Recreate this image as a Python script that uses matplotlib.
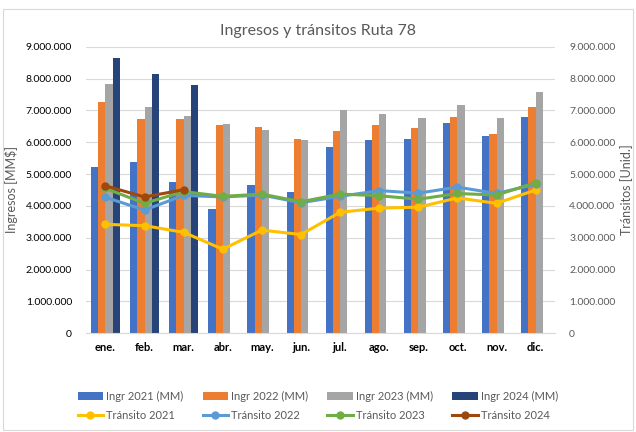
import numpy as np
import matplotlib
matplotlib.use("Agg")
import matplotlib.pyplot as plt
from matplotlib.ticker import FuncFormatter, MultipleLocator
from matplotlib.patches import Rectangle

plt.rcParams['font.family'] = ['Lato', 'DejaVu Sans']

meses = ['ene.', 'feb.', 'mar.', 'abr.', 'may.', 'jun.', 'jul.', 'ago.', 'sep.', 'oct.', 'nov.', 'dic.']

# Ingresos (MM$)
ingr_2021 = [5220000, 5380000, 4740000, 3890000, 4650000, 4430000, 5840000, 6060000, 6090000, 6600000, 6190000, 6800000]
ingr_2022 = [7260000, 6720000, 6720000, 6530000, 6470000, 6100000, 6350000, 6540000, 6450000, 6790000, 6250000, 7100000]
ingr_2023 = [7820000, 7100000, 6830000, 6560000, 6390000, 6070000, 7010000, 6890000, 6760000, 7180000, 6770000, 7570000]
ingr_2024 = [8630000, 8140000, 7810000]

# Tránsitos (Unid.)
tran_2021 = [3420000, 3380000, 3170000, 2640000, 3240000, 3100000, 3800000, 3930000, 3960000, 4250000, 4080000, 4500000]
tran_2022 = [4270000, 3870000, 4330000, 4280000, 4340000, 4100000, 4300000, 4480000, 4400000, 4590000, 4390000, 4680000]
tran_2023 = [4550000, 4080000, 4450000, 4300000, 4370000, 4130000, 4370000, 4320000, 4210000, 4390000, 4340000, 4730000]
tran_2024 = [4630000, 4280000, 4510000]

c_bar = ['#4472C4', '#ED7D31', '#A5A5A5', '#264478']
c_line = ['#FFC000', '#5B9BD5', '#70AD47', '#9E480E']
txt = '#595959'

fig = plt.figure(figsize=(6.36, 4.32), dpi=100)
fig.patches.append(Rectangle((0.005, 0.005), 0.99, 0.975, transform=fig.transFigure,
                             fill=False, edgecolor='#D9D9D9', linewidth=0.8))
ax = fig.add_axes([0.135, 0.2285, 0.738, 0.6635])

x = np.arange(len(meses))
w = 0.185
series = [ingr_2021, ingr_2022, ingr_2023, ingr_2024]
labels_b = ['Ingr 2021 (MM)', 'Ingr 2022 (MM)', 'Ingr 2023 (MM)', 'Ingr 2024 (MM)']
bars = []
for i, s in enumerate(series):
    xs = x[:len(s)] + (i - 1.5) * w
    b = ax.bar(xs, s, width=w, color=c_bar[i], label=labels_b[i], zorder=2)
    bars.append(b)

fmt = FuncFormatter(lambda v, p: f'{int(v):,}'.replace(',', '.'))
ax.set_ylim(0, 9000000)
ax.set_xlim(-0.5, 11.5)
ax.yaxis.set_major_locator(MultipleLocator(1000000))
ax.yaxis.set_major_formatter(fmt)
ax.grid(axis='y', color='#D9D9D9', linewidth=0.8, zorder=0)
ax.set_axisbelow(True)
ax.set_xticks(x)
ax.set_xticklabels(meses, fontweight='bold', fontsize=8, color='black')
ax.tick_params(axis='y', labelsize=7.5, colors='black', length=0, pad=10)
ax.tick_params(axis='x', length=0, pad=6)
for sp in ['top', 'right', 'left']:
    ax.spines[sp].set_visible(False)
ax.spines['bottom'].set_color('#D9D9D9')
ax.set_ylabel('Ingresos [MM$]', fontsize=9, color=txt)
ax.yaxis.set_label_coords(-0.145, 0.5)

ax2 = ax.twinx()
ax2.set_ylim(0, 9000000)
ax2.yaxis.set_major_locator(MultipleLocator(1000000))
ax2.yaxis.set_major_formatter(fmt)
ax2.tick_params(axis='y', labelsize=7.5, colors=txt, length=0, pad=10)
for sp in ax2.spines.values():
    sp.set_visible(False)
ax2.set_ylabel('Tránsitos [Unid.]', fontsize=9, color=txt)
ax2.yaxis.set_label_coords(1.139, 0.5)

tseries = [tran_2021, tran_2022, tran_2023, tran_2024]
labels_l = ['Tránsito 2021', 'Tránsito 2022', 'Tránsito 2023', 'Tránsito 2024']
lines = []
for i, s in enumerate(tseries):
    ln, = ax2.plot(x[:len(s)], s, color=c_line[i], linewidth=2.2, marker='o',
                   markersize=5, label=labels_l[i], zorder=3)
    lines.append(ln)

fig.suptitle('Ingresos y tránsitos Ruta 78', y=0.945, fontsize=11.5, color=txt)

handles, labs = [], []
for b, l in zip(bars, lines):
    handles += [b, l]
    labs += [b.get_label(), l.get_label()]
fig.legend(handles, labs, ncol=4, loc='center', bbox_to_anchor=(0.5, 0.06),
           frameon=False, fontsize=8, handlelength=2.3, handletextpad=0.3,
           columnspacing=1.7, labelspacing=0.75, labelcolor=txt)

fig.savefig('out.png', dpi=100)
